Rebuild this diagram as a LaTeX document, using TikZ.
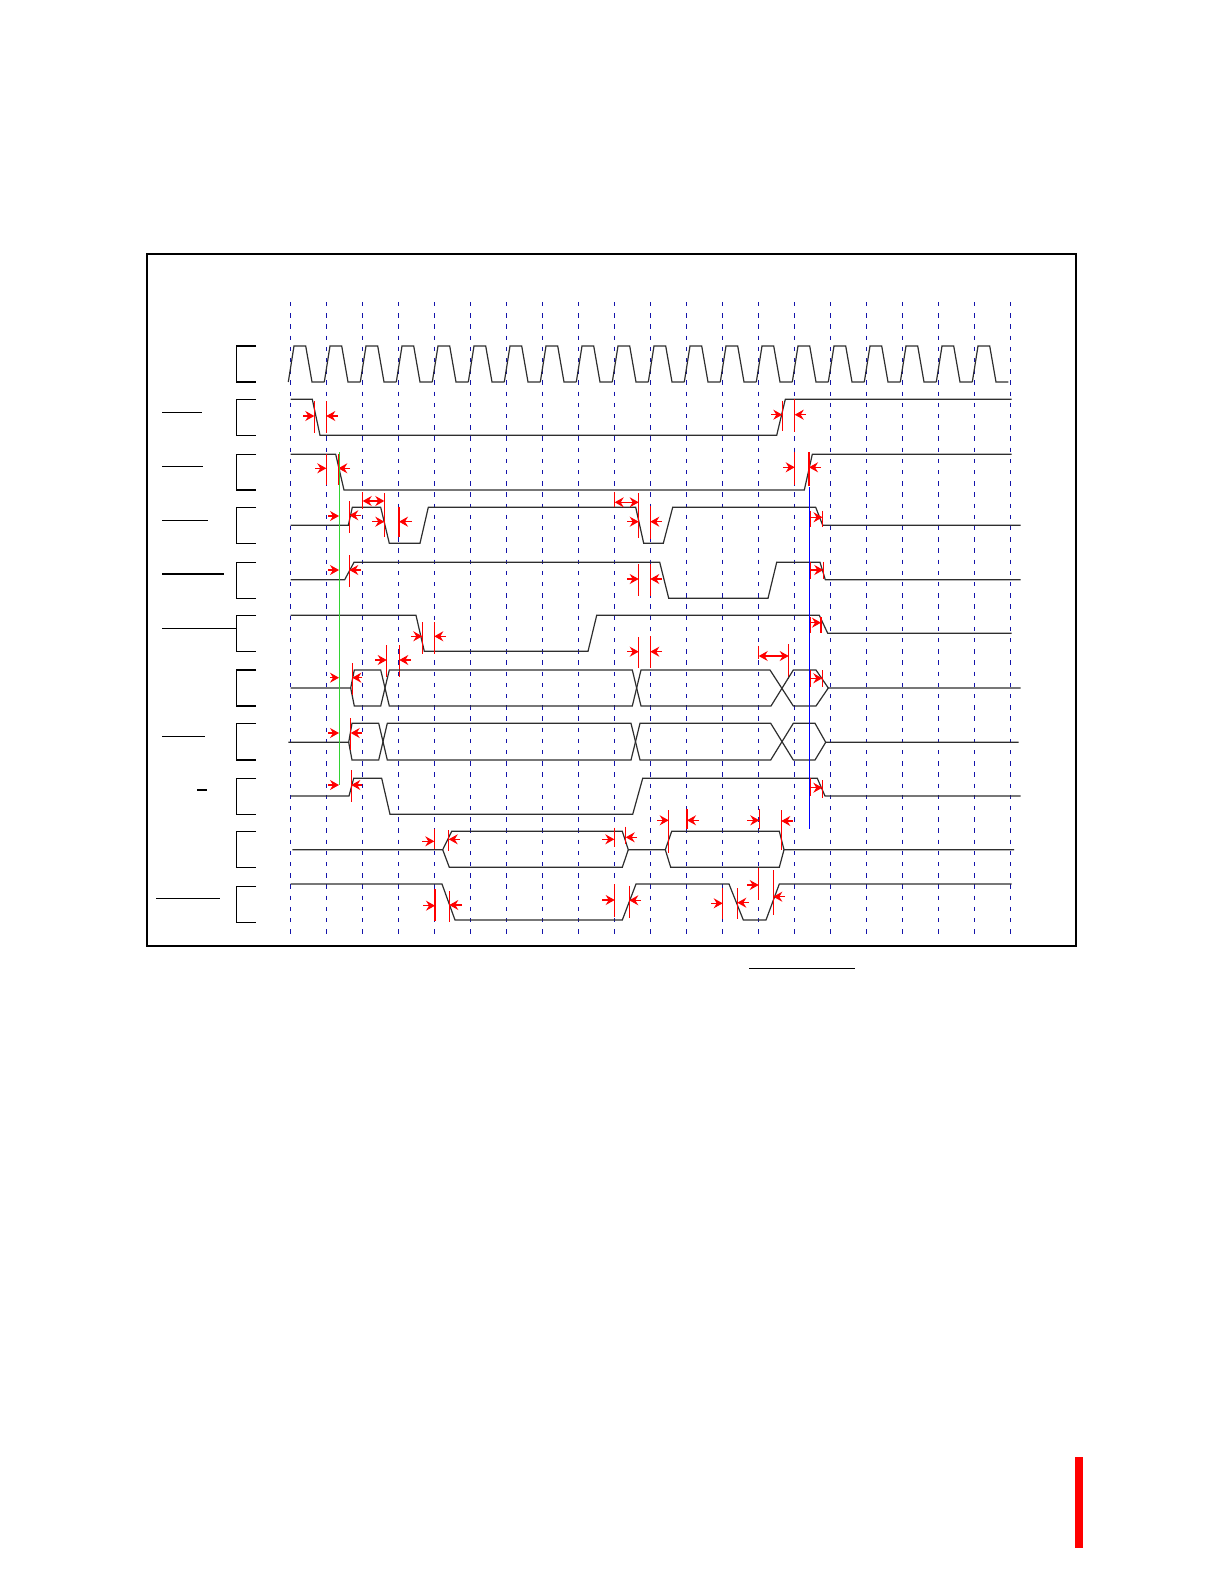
\documentclass[tikz,border=0pt]{standalone}
\usepackage{tikz}
\usetikzlibrary{arrows.meta}
\definecolor{gridblue}{RGB}{20,20,170}
\definecolor{markgreen}{RGB}{50,210,50}
\tikzset{
	sigline/.style={line width=0.6pt, color=black!82, line join=miter},
	bracket/.style={line width=0.6pt, color=black},
	gridline/.style={line width=0.65pt, color=gridblue, dash pattern=on 2.2pt off 3.4pt},
	redline/.style={line width=0.55pt, color=red},
	redarr/.style={line width=0.55pt, color=red, -{Stealth[length=4.5pt,width=5pt,inset=1.5pt]}},
	redboth/.style={line width=0.55pt, color=red, {Stealth[length=4.5pt,width=5pt,inset=1.5pt]}-{Stealth[length=4.5pt,width=5pt,inset=1.5pt]}}
}
\def\rtick(#1:#2:#3){\draw[redline] (#1,#2) -- (#1,#3);}
\def\rarr(#1:#2:#3){\draw[redarr] (#1,#3) -- (#2,#3);}
\def\rboth(#1:#2:#3){\draw[redboth] (#1,#3) -- (#2,#3);}
\def\brk(#1:#2){\draw[bracket] (256,#1) -- (236.3,#1) -- (236.3,#2) -- (256,#2);}

\begin{document}
\begin{tikzpicture}[x=0.5pt, y=-0.5pt]
		%%%%% START %%%%%
		\useasboundingbox (0,0) rectangle (1224,1584);
		
		\draw[line width=0.65pt, color=black] (147,254) rectangle (1076,946);
		
		\foreach \k in {0,...,20}
			\draw[gridline] (290.7+36*\k,302) -- (290.7+36*\k,940);
		
		% brackets and label bars
		\brk(346:382)
		\brk(399.3:435.3)
		\brk(454.3:490)
		\brk(507.3:543.3)
		\brk(562.3:598.3)
		\brk(615.3:651.3)
		\brk(670:706)
		\brk(723.3:760)
		\brk(778.3:814.3)
		\brk(831.3:867.3)
		\brk(886.3:922.3)
		
		\draw[bracket] (162,412.3) -- (202,412.3);
		\draw[bracket] (162,466.3) -- (202.7,466.3);
		\draw[bracket] (162,520.3) -- (208,520.3);
		\draw[bracket] (162,574) -- (224,574);
		\draw[bracket] (162,628.3) -- (236.3,628.3);
		\draw[bracket] (162,736.3) -- (204.7,736.3);
		\draw[bracket] (197,790) -- (206.7,790);
		\draw[bracket] (156,898.3) -- (220,898.3);
		\draw[bracket] (749.3,968.3) -- (855,968.3);
		
		% clock
		\foreach \k in {0,...,19}
			\draw[sigline] (288.3+36*\k,382) -- (294+36*\k,346) -- (305.7+36*\k,346) -- (312+36*\k,382) -- (324.3+36*\k,382);
		
		% row 2
		\draw[sigline] (290.7,399.3) -- (312.3,399.3) -- (320,435.3) -- (776.7,435.3) -- (785.3,399.3) -- (1011.7,399.3);
		\rtick(314.3:401:432.7) \rtick(326.3:401:432.7)
		\rarr(303:314.3:416) \rarr(337.5:326.3:416)
		\rtick(782.3:400.7:431) \rtick(794.7:399:432)
		\rarr(771:782.3:414.7) \rarr(806:794.7:414.7)
		
		% row 3
		\draw[sigline] (290.7,454.3) -- (335.7,454.3) -- (344,490) -- (804.3,490) -- (812.3,454.3) -- (1011.7,454.3);
		\rtick(326.3:454:485.3) \rtick(338.3:454:485.3)
		\rarr(315:326.3:468.3) \rarr(350:338.3:468.3)
		\rtick(794.7:451.7:485) \rtick(809:452:486)
		\rarr(783:794.7:467.3) \rarr(821:809:467.3)
		
		% row 4
		\draw[sigline] (290.7,525.3) -- (348.3,525.3) -- (352.3,507.3) -- (380.7,507.3) -- (389.3,543.3) -- (420,543.3) -- (428.3,507.3) -- (635.7,507.3) -- (643.7,543.3) -- (663.3,543.3) -- (672.7,507.3) -- (815.7,507.3) -- (822.7,525.3) -- (1020.7,525.3);
		\rarr(328:339:516)
		\rtick(349.3:501:532.7) \rarr(360.5:349.3:515.3)
		\rtick(362.7:492.3:509.3) \rtick(384.3:493.3:537.3)
		\rboth(362.7:384.3:501)
		\rarr(372:384.3:521.7)
		\rtick(399:506.7:537.3) \rarr(412:399:521.7)
		\rtick(614.7:491.7:506.7) \rtick(638.7:493.3:538.3)
		\rboth(614.7:638.7:502.3)
		\rarr(627:638.7:521.7)
		\rtick(650.3:506:539.3) \rarr(662:650.3:521.7)
		\rtick(810:510.7:526.7) \rtick(822.5:510.7:526.7)
		\rarr(810:822.5:517.3)
		
		% row 5
		\draw[sigline] (290.7,579.7) -- (344.7,579.7) -- (354,562.3) -- (659.7,562.3) -- (668.7,598.3) -- (768,598.3) -- (776.7,562.3) -- (820,562.3) -- (825.3,579.7) -- (1020.7,579.7);
		\rarr(328:339:570)
		\rtick(349.3:555:587.3) \rarr(360.5:349.3:570)
		\rtick(638.7:564:596.3) \rtick(650.3:564:596.3)
		\rarr(627:638.7:579) \rarr(662:650.3:579)
		\rtick(810:561.7:579) \rtick(823.3:561.7:579)
		\rarr(810:823.3:570)
		
		% row 6
		\draw[sigline] (290.7,615.3) -- (416,615.3) -- (424.3,651.3) -- (588,651.3) -- (596.7,615.3) -- (819.3,615.3) -- (827.7,633.3) -- (1011.7,633.3);
		\rtick(422.3:622:653.7) \rtick(434.3:622:653.7)
		\rarr(411:422.3:636.3) \rarr(446:434.3:636.3)
		\rtick(638.7:637.3:668.3) \rtick(650.3:636:668)
		\rarr(627:638.7:651.7) \rarr(662:650.3:651.7)
		\rtick(386.7:645:676.7) \rtick(399.3:645:676.7)
		\rarr(375:386.7:660) \rarr(411:399.3:660)
		\rtick(758.7:645.7:659.3) \rtick(788.7:644:679.3)
		\rboth(758.7:788.7:656)
		\rtick(810:617.3:633.3) \rtick(821:617.3:633.3)
		\rarr(810:821:622.7)
		
		% row 7
		\draw[sigline] (290.7,688) -- (350.7,688) -- (354.3,670) -- (380.7,670) -- (389.3,706) -- (632.3,706) -- (641,670) -- (770,670) -- (793.3,706) -- (816,706) -- (828.3,688) -- (1020.7,688);
		\draw[sigline] (350.7,688) -- (354.3,706) -- (380.7,706) -- (389.3,670) -- (632.3,670) -- (641,706) -- (771,706) -- (793.3,670) -- (816,670) -- (828.3,688);
		\rarr(330:339:677.7)
		\rtick(352.3:663.3:695) \rarr(362:352.3:677.7)
		\rtick(810:670:687) \rtick(822.3:670:687)
		\rarr(810:822.3:678.3)
		
		% row 8
		\draw[sigline] (288.3,742.3) -- (348.7,742.3) -- (352,723.3) -- (378.7,723.3) -- (387.3,760) -- (631,760) -- (640,723.3) -- (770.7,723.3) -- (793.3,760) -- (815,760) -- (825.7,742.3) -- (1018.7,742.3);
		\draw[sigline] (348.7,742.3) -- (352,760) -- (378.7,760) -- (387.3,723.3) -- (631,723.3) -- (640,760) -- (770.7,760) -- (793.3,723.3) -- (815,723.3) -- (825.7,742.3);
		\rarr(328:339:733)
		\rtick(350.7:718.3:750) \rarr(362:350.7:733)
		
		% row 9
		\draw[sigline] (290.7,796) -- (349,796) -- (353.7,778.3) -- (381.7,778.3) -- (390,814.3) -- (632.7,814.3) -- (642.7,778.3) -- (817.3,778.3) -- (825,796) -- (1020.7,796);
		\rarr(328:339:785)
		\rtick(351.3:770:802.3) \rarr(362:351.3:785)
		\rtick(810:778:796) \rtick(822.3:780:798.3)
		\rarr(810:822.3:787.7)
		
		% row 10
		\draw[sigline] (292.3,849.7) -- (442.7,849.7) -- (451.7,831.3) -- (622.3,831.3) -- (628.3,849.7) -- (665.3,849.7) -- (671.7,831.3) -- (779.3,831.3) -- (784,849.7) -- (1014,849.7);
		\draw[sigline] (442.7,849.7) -- (449.3,867.3) -- (622.3,867.3) -- (628.3,849.7);
		\draw[sigline] (665.3,849.7) -- (670.7,867.3) -- (779.3,867.3) -- (784,849.7);
		\rtick(434.3:829:849.3) \rarr(422:434.3:841.3)
		\rtick(448.7:830:850.7) \rarr(460:448.7:839.3)
		\rtick(614.3:827.7:847.3) \rarr(602:614.3:839.3)
		\rtick(625.7:826.7:844) \rarr(637:625.7:837.3)
		\rtick(668.7:810:852.7) \rarr(657:668.7:820.3)
		\rtick(687:809.3:829) \rarr(699:687:820.3)
		\rtick(759.3:809.3:829.3) \rarr(747:759.3:820.3)
		\rtick(781.3:810:850) \rarr(793:781.3:821)
		
		% row 11
		\draw[sigline] (290.7,884) -- (442,884) -- (455,920) -- (622.3,920) -- (636,884) -- (729,884) -- (743.3,920) -- (766,920) -- (779.3,884) -- (1011.7,884);
		\rtick(435:889.3:921.3) \rarr(423:435:905.7)
		\rtick(449.3:891:922.3) \rarr(462:449.3:905)
		\rtick(614.7:884.3:917.3) \rarr(602:614.7:900)
		\rtick(629.3:885.7:918.3) \rarr(641:629.3:900.3)
		\rtick(722.7:888.3:918.7) \rarr(711:722.7:903.3)
		\rtick(737.3:888.3:918.7) \rarr(749:737.3:902.7)
		\rtick(758.7:867.7:900) \rarr(747:758.7:885)
		\rtick(773.3:870:915) \rarr(785:773.3:896.7)
		
		% reference lines
		\draw[line width=0.5pt, color=markgreen] (339,452.3) -- (339,785);
		\draw[line width=0.5pt, color=blue] (809.3,487.3) -- (809.3,829.3);
		
		\draw[fill=red, draw=none] (1075,1457) rectangle (1083,1547.7);
		
		%%%%% END %%%%%
	\end{tikzpicture}
\end{document}
